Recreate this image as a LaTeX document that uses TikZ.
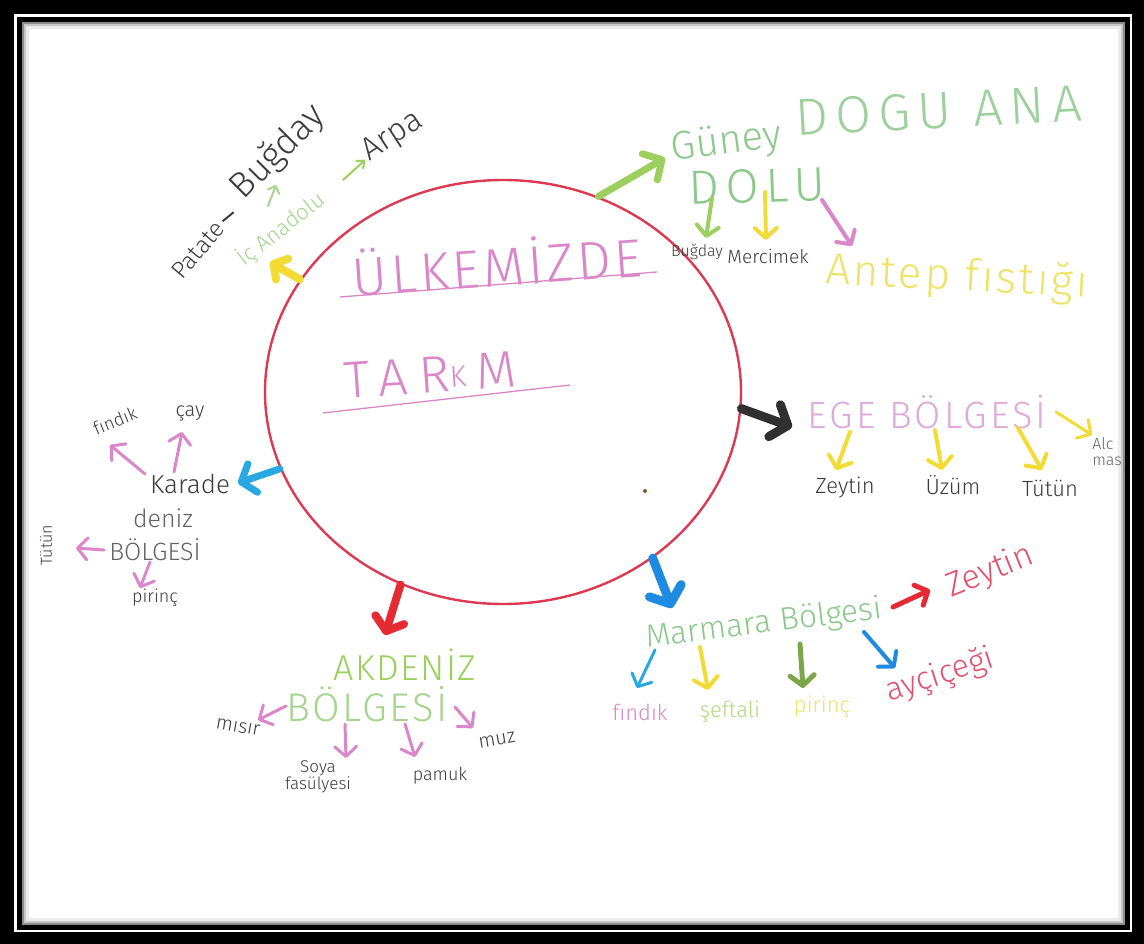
\documentclass[tikz,border=0pt]{standalone}
\usepackage{fontspec}
\setmainfont{Fira Sans Light}
\usetikzlibrary{arrows.meta,shapes.geometric}

\definecolor{ringred}{HTML}{DC3A52}
\definecolor{pinkink}{HTML}{D987C8}
\definecolor{lilac}{HTML}{DDAADA}
\definecolor{leafgreen}{HTML}{9CCF5E}
\definecolor{palegreen}{HTML}{A6D48E}
\definecolor{mintgreen}{HTML}{8CC88C}
\definecolor{sungold}{HTML}{F2DC34}
\definecolor{paleyellow}{HTML}{EEE366}
\definecolor{skyblue}{HTML}{28A8E0}
\definecolor{deepblue}{HTML}{1E8AE0}
\definecolor{firered}{HTML}{E62A34}
\definecolor{rosered}{HTML}{E2506E}
\definecolor{pencil}{HTML}{3C3C3C}
\definecolor{charcoal}{HTML}{303030}

\tikzset{
  lbl/.style={inner sep=0pt, font=\fontsize{#1}{#1}\selectfont},
  spaced/.style n args={2}{inner sep=0pt,
    font=\fontsize{#1}{#1}\selectfont\addfontfeatures{LetterSpace=#2}},
  arw/.style n args={4}{draw=#1, line width=#2, line cap=round,
    -{Straight Barb[length=#3, width=#4, round]}},
}

\begin{document}
\begin{tikzpicture}[x=1pt,y=-1pt]
\useasboundingbox (0,0) rectangle (1144,944);

% double black frame with an inner shadow
\fill[black] (0,0) rectangle (1144,944);
\fill[white] (14,14) rectangle (1132,932);
\fill[black] (17,17) rectangle (1130,930);
\fill[white] (22,22) rectangle (1125,925);
\draw[black!45,line width=2pt] (23,23) rectangle (1124,924);
\draw[black!22,line width=2pt] (25,25) rectangle (1122,922);
\draw[black!8,line width=3pt] (27.5,27.5) rectangle (1119.5,919.5);

\begin{scope}
\clip (22,22) rectangle (1125,925);

% central ring and title
\node[draw=ringred, ellipse, line width=2.4pt, inner sep=0pt,
      minimum width=476pt, minimum height=424pt] (c) at (503,392) {};
\node[spaced={54}{6}, text=pinkink, rotate=4] (ulke) at (497,263) {ÜLKEMİZDE};
\draw[pinkink, line width=1.3pt] (340,297) -- (657,272);
\node[spaced={52}{22}, text=pinkink, rotate=4] (tarim) at (430,375)
      {TAR\raisebox{4pt}{\fontsize{30}{30}\selectfont K}\hspace{10pt}M};
\draw[pinkink, line width=1.3pt] (323,413) -- (570,385);
\fill[brown!70!black] (645,491) circle (2pt);

% Güneydoğu Anadolu
\node[lbl=40, text=mintgreen, rotate=7, anchor=west] (gd1) at (671,150) {Güney};
\node[spaced={52}{14}, text=mintgreen!85!white, rotate=3, anchor=west] (gd2) at (795,118) {DOGU ANA};
\node[spaced={48}{14}, text=mintgreen, rotate=2] (dolu) at (757,186) {DOLU};
\node[lbl=16, text=pencil] (bugday2) at (697,252) {Buğday};
\node[lbl=19, text=pencil] (mercimek) at (768,256) {Mercimek};
\node[spaced={44}{6}, text=paleyellow, rotate=-3] (antep) at (957,278) {Antep fıstığı};
\coordinate (gdTip) at (665,158);
\draw[arw={leafgreen}{7pt}{14pt}{30pt}] (c.64) -- (gdTip);
\coordinate (d1) at (712,198); \coordinate (d1t) at (706,238);
\coordinate (d2) at (765,192); \coordinate (d2t) at (766,240);
\coordinate (d3) at (822,200); \coordinate (d3t) at (852,246);
\draw[arw={leafgreen}{4pt}{10pt}{22pt}] (d1) -- (d1t);
\draw[arw={sungold}{4pt}{10pt}{22pt}] (d2) -- (d2t);
\draw[arw={pinkink}{4pt}{10pt}{22pt}] (d3) -- (d3t);

% İç Anadolu
\node[lbl=22, text=palegreen, rotate=38] (ic) at (281,229) {İç Anadolu};
\node[lbl=24, text=pencil, rotate=50] (patate) at (198,250) {Patate};
\node[lbl=36, text=pencil, rotate=45] (bugday1) at (278,152) {Buğday};
\node[lbl=32, text=pencil, rotate=33] (arpa) at (393,137) {Arpa};
\coordinate (icTip) at (270,262);
\draw[arw={sungold}{8pt}{10pt}{24pt}] (c.151) -- (icTip);
\coordinate (ic1) at (343,180); \coordinate (ic1t) at (365,160);
\coordinate (ic2) at (268,206); \coordinate (ic2t) at (276,185);
\draw[arw={leafgreen}{2pt}{6pt}{10pt}] (ic1) -- (ic1t);
\draw[arw={palegreen}{2pt}{6pt}{12pt}] (ic2) -- (ic2t);
\draw[pencil, line width=2pt] (patate.east) ++(3,-3) -- ++(11,-9);

% Karadeniz
\node[lbl=26, text=pencil] (kara) at (190,484) {Karade};
\node[lbl=25, text=pencil!80] (deniz) at (163,518) {deniz};
\node[lbl=25, text=pencil!80] (kbolge) at (155,550) {BÖLGESİ};
\node[lbl=18, text=pencil, rotate=22] (findik1) at (115,421) {fındık};
\node[lbl=20, text=pencil] (cay) at (190,413) {çay};
\node[lbl=16, text=pencil, rotate=90] (tutun1) at (46,545) {Tütün};
\node[lbl=18, text=pencil] (pirinc1) at (155,598) {pirinç};
\coordinate (kTip) at (238,483);
\draw[arw={skyblue}{7pt}{12pt}{30pt}] (c.199) -- (kTip);
\coordinate (k1) at (145,474); \coordinate (k1t) at (110,445);
\coordinate (k2) at (174,472); \coordinate (k2t) at (182,432);
\coordinate (k3) at (104,550); \coordinate (k3t) at (76,548);
\coordinate (k4) at (150,562); \coordinate (k4t) at (140,588);
\draw[arw={pinkink}{3pt}{10pt}{22pt}] (k1) -- (k1t);
\draw[arw={pinkink}{3pt}{10pt}{22pt}] (k2) -- (k2t);
\draw[arw={pinkink}{3pt}{10pt}{22pt}] (k3) -- (k3t);
\draw[arw={pinkink}{3pt}{10pt}{22pt}] (k4) -- (k4t);

% Ege Bölgesi
\node[spaced={38}{8}, text=lilac] (ege) at (927,412) {EGE BÖLGESİ};
\node[lbl=22, text=pencil] (zeytin1) at (845,487) {Zeytin};
\node[lbl=22, text=pencil] (uzum) at (953,485) {Üzüm};
\node[lbl=22, text=pencil] (tutun2) at (1050,488) {Tütün};
\node[lbl=16, text=pencil!80, align=left] (alc) at (1107,452) {Alc\\mas};
\coordinate (eTip) at (792,427);
\draw[arw={charcoal}{9pt}{14pt}{34pt}] (c.-4) -- (eTip);
\coordinate (e1) at (850,432); \coordinate (e1t) at (836,470);
\coordinate (e2) at (935,430); \coordinate (e2t) at (942,470);
\coordinate (e3) at (1018,428); \coordinate (e3t) at (1042,470);
\coordinate (e4) at (1056,412); \coordinate (e4t) at (1092,435);
\draw[arw={sungold}{4pt}{10pt}{24pt}] (e1) -- (e1t);
\draw[arw={sungold}{4pt}{10pt}{24pt}] (e2) -- (e2t);
\draw[arw={sungold}{4pt}{10pt}{24pt}] (e3) -- (e3t);
\draw[arw={sungold}{3pt}{10pt}{22pt}] (e4) -- (e4t);

% Marmara Bölgesi
\node[lbl=32, text=mintgreen, rotate=7] (marmara) at (764,624) {Marmara Bölgesi};
\node[lbl=34, text=rosered, rotate=22] (zeytin2) at (990,572) {Zeytin};
\node[lbl=32, text=rosered, rotate=18] (aycicegi) at (940,676) {ayçiçeği};
\node[lbl=22, text=pinkink] (findik2) at (640,712) {fındık};
\node[lbl=22, text=palegreen!80!sungold] (seftali) at (730,712) {şeftali};
\node[lbl=22, text=paleyellow] (pirinc2) at (822,707) {pirinç};
\coordinate (mTip) at (672,608);
\draw[arw={deepblue}{9pt}{14pt}{34pt}] (c.-48) -- (mTip);
\coordinate (m1) at (893,607); \coordinate (m1t) at (930,590);
\coordinate (m2) at (864,632); \coordinate (m2t) at (895,668);
\coordinate (m3) at (655,650); \coordinate (m3t) at (637,688);
\coordinate (m4) at (700,647); \coordinate (m4t) at (708,690);
\coordinate (m5) at (800,644); \coordinate (m5t) at (803,688);
\draw[arw={firered}{5pt}{10pt}{22pt}] (m1) -- (m1t);
\draw[arw={deepblue}{4pt}{10pt}{24pt}] (m2) -- (m2t);
\draw[arw={skyblue}{3pt}{10pt}{22pt}] (m3) -- (m3t);
\draw[arw={sungold}{4pt}{10pt}{24pt}] (m4) -- (m4t);
\draw[arw={leafgreen!80!black}{5pt}{10pt}{24pt}] (m5) -- (m5t);

% Akdeniz Bölgesi
\node[spaced={36}{4}, text=leafgreen] (akdeniz) at (405,665) {AKDENİZ};
\node[spaced={40}{6}, text=palegreen] (abolge) at (367,704) {BÖLGESİ};
\node[lbl=20, text=pencil, rotate=-10] (misir) at (238,727) {mısır};
\node[lbl=17, text=pencil, align=center] (soya) at (318,777) {Soya\\fasülyesi};
\node[lbl=18, text=pencil] (pamuk) at (440,776) {pamuk};
\node[lbl=20, text=pencil, rotate=10] (muz) at (497,740) {muz};
\coordinate (aTip) at (385,635);
\draw[arw={firered}{8pt}{12pt}{30pt}] (c.-118) -- (aTip);
\coordinate (a1) at (286,706); \coordinate (a1t) at (258,720);
\coordinate (a2) at (345,724); \coordinate (a2t) at (346,758);
\coordinate (a3) at (405,724); \coordinate (a3t) at (415,757);
\coordinate (a4) at (455,707); \coordinate (a4t) at (473,728);
\draw[arw={pinkink}{3pt}{10pt}{22pt}] (a1) -- (a1t);
\draw[arw={pinkink}{3pt}{10pt}{22pt}] (a2) -- (a2t);
\draw[arw={pinkink}{3pt}{10pt}{22pt}] (a3) -- (a3t);
\draw[arw={pinkink}{3pt}{10pt}{22pt}] (a4) -- (a4t);
\end{scope}
\end{tikzpicture}
\end{document}
